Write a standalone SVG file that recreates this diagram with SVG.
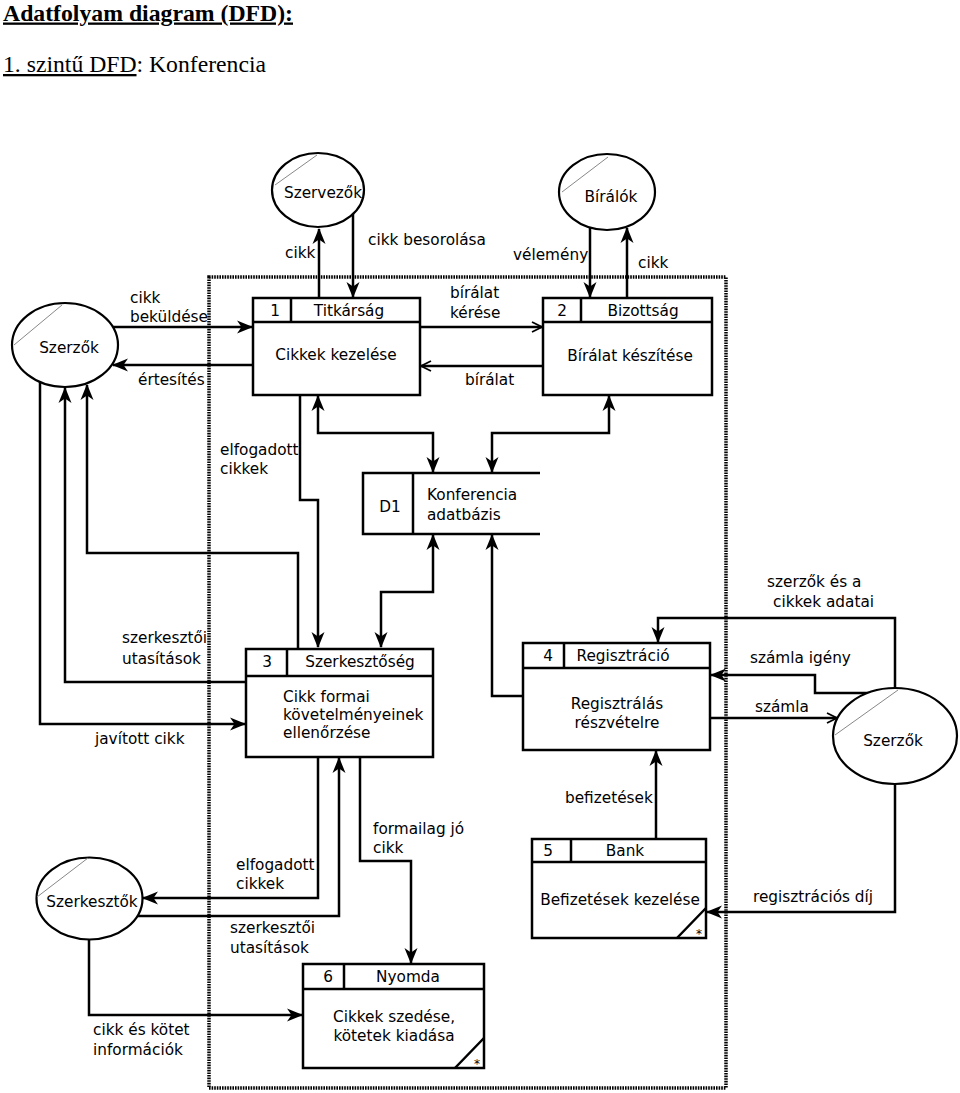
<svg xmlns="http://www.w3.org/2000/svg" width="960" height="1093" viewBox="0 0 960 1093">
<style>
.t{font-family:"DejaVu Sans","Liberation Sans",sans-serif;font-size:15.3px;fill:#000}
.m{text-anchor:middle}
.box{fill:#fff;stroke:#000;stroke-width:2.5}
.ln{fill:none;stroke:#000;stroke-width:2.5}
.ent{fill:#fff;stroke:#000;stroke-width:2.2}
.chord{stroke:#888;stroke-width:1;fill:none}
.c{fill:none;stroke:#000;stroke-width:2.5}
.h{font-family:"Liberation Serif",serif;font-size:23px;fill:#000}
.star{font-family:"DejaVu Sans",sans-serif;font-size:12px;text-anchor:middle}
</style>
<defs>
<marker id="a" viewBox="0 0 16 14" refX="15" refY="7" markerWidth="16" markerHeight="14" markerUnits="userSpaceOnUse" orient="auto-start-reverse">
<path d="M0,0.5 L16,7 L0,13.5 L4.5,7 z" fill="#000"/>
</marker>
<marker id="o" viewBox="0 0 12 12" refX="11" refY="6" markerWidth="12" markerHeight="12" markerUnits="userSpaceOnUse" orient="auto">
<path d="M1,1 L11,6 L1,11" fill="none" stroke="#000" stroke-width="1.8"/>
</marker>
</defs>
<rect width="960" height="1093" fill="#fff"/>
<text class="h" x="3" y="20.5" font-weight="bold" text-decoration="underline" textLength="290" lengthAdjust="spacingAndGlyphs">Adatfolyam diagram (DFD):</text>
<text class="h" x="3" y="72" textLength="263" lengthAdjust="spacingAndGlyphs"><tspan text-decoration="underline">1. szintű DFD</tspan>: Konferencia</text>

<rect id="boundary" x="209" y="277" width="517" height="811" fill="none" stroke="#000" stroke-width="3.5" stroke-dasharray="1.6 1"/>

<g id="connectors">
<path class="c" d="M319,298 V229" marker-end="url(#a)"/>
<path class="c" d="M353,214 V297" marker-end="url(#a)"/>
<path class="c" d="M113,327 H252" marker-end="url(#a)"/>
<path class="c" d="M253,365 H113" marker-end="url(#a)"/>
<path class="c" d="M420,327 H542" marker-end="url(#o)"/>
<path class="c" d="M543,366 H421" marker-end="url(#o)"/>
<path class="c" d="M590,228 V297" marker-end="url(#a)"/>
<path class="c" d="M627,298 V228" marker-end="url(#a)"/>
<path class="c" d="M318,396 V433 H433 V472" marker-start="url(#a)" marker-end="url(#a)"/>
<path class="c" d="M609,396 V433 H492 V472" marker-start="url(#a)" marker-end="url(#a)"/>
<path class="c" d="M300,395 V500 H318 V647" marker-end="url(#a)"/>
<path class="c" d="M433,535 V592 H381 V647" marker-start="url(#a)" marker-end="url(#a)"/>
<path class="c" d="M523,696 H492 V535" marker-end="url(#a)"/>
<path class="c" d="M298,649 V553 H87 V385" marker-end="url(#a)"/>
<path class="c" d="M246,682 H65 V388" marker-end="url(#a)"/>
<path class="c" d="M40,382 V724 H245" marker-end="url(#a)"/>
<path class="c" d="M318,757 V898 H143" marker-end="url(#a)"/>
<path class="c" d="M138,916 H339 V758" marker-end="url(#a)"/>
<path class="c" d="M360,757 V861 H411 V963" marker-end="url(#a)"/>
<path class="c" d="M89,940 V1015 H302" marker-end="url(#a)"/>
<path class="c" d="M656,839 V751" marker-end="url(#a)"/>
<path class="c" d="M895,784 V912 H707" marker-end="url(#a)"/>
<path class="c" d="M895,688 V618 H658 V642" marker-end="url(#a)"/>
<path class="c" d="M869,693 H815 V675 H711" marker-end="url(#a)"/>
<path class="c" d="M710,718 H837" marker-end="url(#o)"/>
</g>

<g id="labels">
<text class="t" x="285" y="258">cikk</text>
<text class="t" x="368" y="245">cikk besorolása</text>
<text class="t" x="513" y="260">vélemény</text>
<text class="t" x="638" y="268">cikk</text>
<text class="t" x="130" y="303">cikk</text>
<text class="t" x="130" y="322">beküldése</text>
<text class="t" x="138" y="385">értesítés</text>
<text class="t" x="450" y="298">bírálat</text>
<text class="t" x="450" y="318">kérése</text>
<text class="t" x="465" y="385">bírálat</text>
<text class="t" x="220" y="455">elfogadott</text>
<text class="t" x="220" y="474">cikkek</text>
<text class="t" x="122" y="643">szerkesztői</text>
<text class="t" x="122" y="664">utasítások</text>
<text class="t" x="95" y="744">javított cikk</text>
<text class="t" x="767" y="587">szerzők és a</text>
<text class="t" x="773" y="607">cikkek adatai</text>
<text class="t" x="750" y="663">számla igény</text>
<text class="t" x="755" y="712">számla</text>
<text class="t" x="565" y="803">befizetések</text>
<text class="t" x="753" y="902">regisztrációs díj</text>
<text class="t" x="373" y="834">formailag jó</text>
<text class="t" x="373" y="853">cikk</text>
<text class="t" x="236" y="870">elfogadott</text>
<text class="t" x="236" y="889">cikkek</text>
<text class="t" x="230" y="933">szerkesztői</text>
<text class="t" x="230" y="953">utasítások</text>
<text class="t" x="93" y="1035">cikk és kötet</text>
<text class="t" x="93" y="1055">információk</text>
</g>

<g id="szervezok">
<ellipse class="ent" cx="318" cy="190" rx="46" ry="37"/>
<line class="chord" x1="275" y1="185" x2="317" y2="155"/>
<text class="t m" x="323" y="198">Szervezők</text>
</g>
<g id="biralok">
<ellipse class="ent" cx="607" cy="192" rx="48" ry="38"/>
<line class="chord" x1="562" y1="192" x2="608" y2="157"/>
<text class="t m" x="611" y="202">Bírálók</text>
</g>
<g id="szerzok1">
<ellipse class="ent" cx="65" cy="345" rx="53" ry="42"/>
<line class="chord" x1="14" y1="345" x2="62" y2="305"/>
<text class="t m" x="69" y="353">Szerzők</text>
</g>
<g id="szerzok2">
<ellipse class="ent" cx="895" cy="736" rx="62" ry="48"/>
<line class="chord" x1="835" y1="735" x2="898" y2="690"/>
<text class="t m" x="893" y="746">Szerzők</text>
</g>
<g id="szerkesztok">
<ellipse class="ent" cx="89.5" cy="898.5" rx="53" ry="41"/>
<line class="chord" x1="37" y1="897" x2="88" y2="858"/>
<text class="t m" x="92" y="907">Szerkesztők</text>
</g>

<g id="p1">
<rect class="box" x="253" y="298" width="167" height="97"/>
<path class="ln" d="M253,322 H420 M291,298 V322"/>
<text class="t m" x="275" y="316">1</text>
<text class="t m" x="349" y="316">Titkárság</text>
<text class="t m" x="336" y="360">Cikkek kezelése</text>
</g>
<g id="p2">
<rect class="box" x="543" y="298" width="169" height="97"/>
<path class="ln" d="M543,322 H712 M581,298 V322"/>
<text class="t m" x="562" y="316">2</text>
<text class="t m" x="643" y="316">Bizottság</text>
<text class="t m" x="630" y="361">Bírálat készítése</text>
</g>
<g id="d1">
<path class="ln" d="M540,473 H363 V534 H540 M413,473 V534"/>
<text class="t m" x="390" y="512">D1</text>
<text class="t" x="427" y="500">Konferencia</text>
<text class="t" x="427" y="520">adatbázis</text>
</g>
<g id="p3">
<rect class="box" x="246" y="649" width="187" height="108"/>
<path class="ln" d="M246,676 H433 M287,649 V676"/>
<text class="t m" x="267" y="667">3</text>
<text class="t m" x="360" y="667">Szerkesztőség</text>
<text class="t" x="283" y="702">Cikk formai</text>
<text class="t" x="283" y="720">követelményeinek</text>
<text class="t" x="283" y="738">ellenőrzése</text>
</g>
<g id="p4">
<rect class="box" x="523" y="643" width="187" height="107"/>
<path class="ln" d="M523,668 H710 M564,643 V668"/>
<text class="t m" x="548" y="661">4</text>
<text class="t m" x="623" y="661">Regisztráció</text>
<text class="t m" x="617" y="709">Regisztrálás</text>
<text class="t m" x="617" y="728">részvételre</text>
</g>
<g id="p5">
<rect class="box" x="532" y="839" width="174" height="99"/>
<path class="ln" d="M532,862 H706 M571,839 V862 M677,938 L706,908"/>
<text class="t m" x="548" y="856">5</text>
<text class="t m" x="625" y="856">Bank</text>
<text class="t m" x="620" y="905">Befizetések kezelése</text>
<text class="star" x="699" y="938">*</text>
</g>
<g id="p6">
<rect class="box" x="303" y="964" width="181" height="104"/>
<path class="ln" d="M303,989 H484 M344,964 V989 M455,1068 L484,1038"/>
<text class="t m" x="328" y="982">6</text>
<text class="t m" x="408" y="982">Nyomda</text>
<text class="t m" x="394" y="1022">Cikkek szedése,</text>
<text class="t m" x="394" y="1041">kötetek kiadása</text>
<text class="star" x="477" y="1068">*</text>
</g>
</svg>
